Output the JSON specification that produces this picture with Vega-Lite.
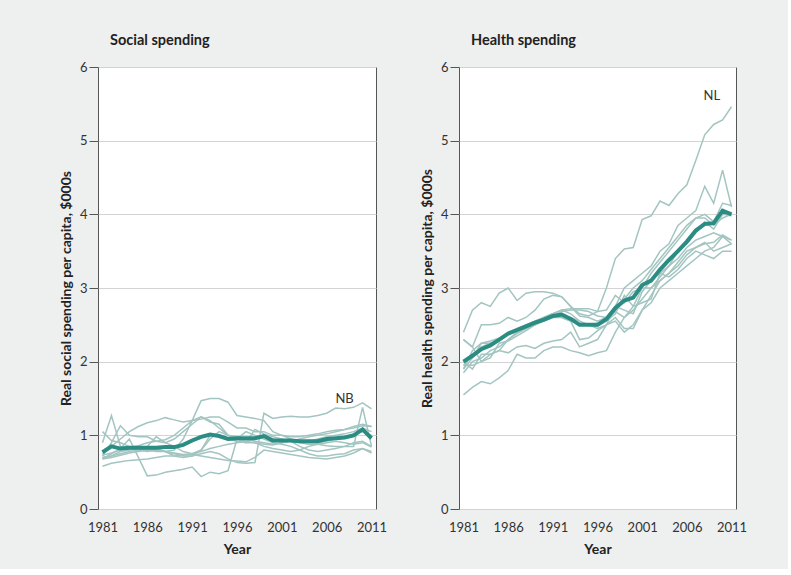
{
"$schema":"https://vega.github.io/schema/vega-lite/v6.json",
"background":"#eeefef",
"padding":{"left":58,"top":32,"right":40,"bottom":12},
"datasets":{
"labels":[{"s":"S","t":"NB","y":2008,"v":1.5},{"s":"H","t":"NL","y":2008.8,"v":5.6}],
"d":[
{"s":"S","p":"avg","y":1981,"v":0.77},{"s":"S","p":"avg","y":1982,"v":0.85},{"s":"S","p":"avg","y":1983,"v":0.82},{"s":"S","p":"avg","y":1984,"v":0.83},{"s":"S","p":"avg","y":1985,"v":0.83},{"s":"S","p":"avg","y":1986,"v":0.83},{"s":"S","p":"avg","y":1987,"v":0.83},{"s":"S","p":"avg","y":1988,"v":0.84},{"s":"S","p":"avg","y":1989,"v":0.84},{"s":"S","p":"avg","y":1990,"v":0.87},{"s":"S","p":"avg","y":1991,"v":0.93},{"s":"S","p":"avg","y":1992,"v":0.98},{"s":"S","p":"avg","y":1993,"v":1.01},{"s":"S","p":"avg","y":1994,"v":0.99},{"s":"S","p":"avg","y":1995,"v":0.95},{"s":"S","p":"avg","y":1996,"v":0.96},{"s":"S","p":"avg","y":1997,"v":0.96},{"s":"S","p":"avg","y":1998,"v":0.96},{"s":"S","p":"avg","y":1999,"v":0.99},{"s":"S","p":"avg","y":2000,"v":0.93},{"s":"S","p":"avg","y":2001,"v":0.93},{"s":"S","p":"avg","y":2002,"v":0.93},{"s":"S","p":"avg","y":2003,"v":0.92},{"s":"S","p":"avg","y":2004,"v":0.92},{"s":"S","p":"avg","y":2005,"v":0.92},{"s":"S","p":"avg","y":2006,"v":0.95},{"s":"S","p":"avg","y":2007,"v":0.96},{"s":"S","p":"avg","y":2008,"v":0.97},{"s":"S","p":"avg","y":2009,"v":1.0},{"s":"S","p":"avg","y":2010,"v":1.08},{"s":"S","p":"avg","y":2011,"v":0.96},
{"s":"S","p":"1","y":1981,"v":0.7},{"s":"S","p":"1","y":1982,"v":0.72},{"s":"S","p":"1","y":1983,"v":0.75},{"s":"S","p":"1","y":1984,"v":0.78},{"s":"S","p":"1","y":1985,"v":0.8},{"s":"S","p":"1","y":1986,"v":0.82},{"s":"S","p":"1","y":1987,"v":0.8},{"s":"S","p":"1","y":1988,"v":0.78},{"s":"S","p":"1","y":1989,"v":0.75},{"s":"S","p":"1","y":1990,"v":0.72},{"s":"S","p":"1","y":1991,"v":0.72},{"s":"S","p":"1","y":1992,"v":0.75},{"s":"S","p":"1","y":1993,"v":0.78},{"s":"S","p":"1","y":1994,"v":0.75},{"s":"S","p":"1","y":1995,"v":0.68},{"s":"S","p":"1","y":1996,"v":0.63},{"s":"S","p":"1","y":1997,"v":0.62},{"s":"S","p":"1","y":1998,"v":0.63},{"s":"S","p":"1","y":1999,"v":1.3},{"s":"S","p":"1","y":2000,"v":1.23},{"s":"S","p":"1","y":2001,"v":1.25},{"s":"S","p":"1","y":2002,"v":1.26},{"s":"S","p":"1","y":2003,"v":1.25},{"s":"S","p":"1","y":2004,"v":1.25},{"s":"S","p":"1","y":2005,"v":1.27},{"s":"S","p":"1","y":2006,"v":1.3},{"s":"S","p":"1","y":2007,"v":1.37},{"s":"S","p":"1","y":2008,"v":1.36},{"s":"S","p":"1","y":2009,"v":1.38},{"s":"S","p":"1","y":2010,"v":1.44},{"s":"S","p":"1","y":2011,"v":1.36},
{"s":"S","p":"2","y":1981,"v":1.05},{"s":"S","p":"2","y":1982,"v":0.93},{"s":"S","p":"2","y":1983,"v":0.9},{"s":"S","p":"2","y":1984,"v":0.85},{"s":"S","p":"2","y":1985,"v":0.82},{"s":"S","p":"2","y":1986,"v":0.8},{"s":"S","p":"2","y":1987,"v":0.78},{"s":"S","p":"2","y":1988,"v":0.78},{"s":"S","p":"2","y":1989,"v":0.8},{"s":"S","p":"2","y":1990,"v":0.95},{"s":"S","p":"2","y":1991,"v":1.2},{"s":"S","p":"2","y":1992,"v":1.47},{"s":"S","p":"2","y":1993,"v":1.5},{"s":"S","p":"2","y":1994,"v":1.5},{"s":"S","p":"2","y":1995,"v":1.45},{"s":"S","p":"2","y":1996,"v":1.27},{"s":"S","p":"2","y":1997,"v":1.25},{"s":"S","p":"2","y":1998,"v":1.23},{"s":"S","p":"2","y":1999,"v":1.2},{"s":"S","p":"2","y":2000,"v":1.05},{"s":"S","p":"2","y":2001,"v":1.0},{"s":"S","p":"2","y":2002,"v":0.95},{"s":"S","p":"2","y":2003,"v":0.92},{"s":"S","p":"2","y":2004,"v":0.9},{"s":"S","p":"2","y":2005,"v":0.9},{"s":"S","p":"2","y":2006,"v":0.92},{"s":"S","p":"2","y":2007,"v":0.95},{"s":"S","p":"2","y":2008,"v":0.98},{"s":"S","p":"2","y":2009,"v":1.02},{"s":"S","p":"2","y":2010,"v":1.05},{"s":"S","p":"2","y":2011,"v":1.0},
{"s":"S","p":"3","y":1981,"v":0.75},{"s":"S","p":"3","y":1982,"v":0.85},{"s":"S","p":"3","y":1983,"v":0.95},{"s":"S","p":"3","y":1984,"v":1.05},{"s":"S","p":"3","y":1985,"v":1.12},{"s":"S","p":"3","y":1986,"v":1.17},{"s":"S","p":"3","y":1987,"v":1.2},{"s":"S","p":"3","y":1988,"v":1.24},{"s":"S","p":"3","y":1989,"v":1.21},{"s":"S","p":"3","y":1990,"v":1.18},{"s":"S","p":"3","y":1991,"v":1.2},{"s":"S","p":"3","y":1992,"v":1.22},{"s":"S","p":"3","y":1993,"v":1.25},{"s":"S","p":"3","y":1994,"v":1.25},{"s":"S","p":"3","y":1995,"v":1.18},{"s":"S","p":"3","y":1996,"v":1.1},{"s":"S","p":"3","y":1997,"v":1.1},{"s":"S","p":"3","y":1998,"v":1.05},{"s":"S","p":"3","y":1999,"v":1.05},{"s":"S","p":"3","y":2000,"v":1.0},{"s":"S","p":"3","y":2001,"v":1.0},{"s":"S","p":"3","y":2002,"v":0.98},{"s":"S","p":"3","y":2003,"v":0.98},{"s":"S","p":"3","y":2004,"v":1.0},{"s":"S","p":"3","y":2005,"v":1.02},{"s":"S","p":"3","y":2006,"v":1.05},{"s":"S","p":"3","y":2007,"v":1.07},{"s":"S","p":"3","y":2008,"v":1.08},{"s":"S","p":"3","y":2009,"v":1.1},{"s":"S","p":"3","y":2010,"v":1.13},{"s":"S","p":"3","y":2011,"v":1.12},
{"s":"S","p":"4","y":1981,"v":0.9},{"s":"S","p":"4","y":1982,"v":1.27},{"s":"S","p":"4","y":1983,"v":0.85},{"s":"S","p":"4","y":1984,"v":0.82},{"s":"S","p":"4","y":1985,"v":0.8},{"s":"S","p":"4","y":1986,"v":0.78},{"s":"S","p":"4","y":1987,"v":0.8},{"s":"S","p":"4","y":1988,"v":0.78},{"s":"S","p":"4","y":1989,"v":0.76},{"s":"S","p":"4","y":1990,"v":0.74},{"s":"S","p":"4","y":1991,"v":0.75},{"s":"S","p":"4","y":1992,"v":0.78},{"s":"S","p":"4","y":1993,"v":0.82},{"s":"S","p":"4","y":1994,"v":0.85},{"s":"S","p":"4","y":1995,"v":0.88},{"s":"S","p":"4","y":1996,"v":0.9},{"s":"S","p":"4","y":1997,"v":0.92},{"s":"S","p":"4","y":1998,"v":0.9},{"s":"S","p":"4","y":1999,"v":0.88},{"s":"S","p":"4","y":2000,"v":0.87},{"s":"S","p":"4","y":2001,"v":0.9},{"s":"S","p":"4","y":2002,"v":0.92},{"s":"S","p":"4","y":2003,"v":0.9},{"s":"S","p":"4","y":2004,"v":0.88},{"s":"S","p":"4","y":2005,"v":0.88},{"s":"S","p":"4","y":2006,"v":0.86},{"s":"S","p":"4","y":2007,"v":0.85},{"s":"S","p":"4","y":2008,"v":0.85},{"s":"S","p":"4","y":2009,"v":0.85},{"s":"S","p":"4","y":2010,"v":1.38},{"s":"S","p":"4","y":2011,"v":0.85},
{"s":"S","p":"5","y":1981,"v":0.72},{"s":"S","p":"5","y":1982,"v":0.9},{"s":"S","p":"5","y":1983,"v":1.13},{"s":"S","p":"5","y":1984,"v":1.0},{"s":"S","p":"5","y":1985,"v":0.98},{"s":"S","p":"5","y":1986,"v":0.98},{"s":"S","p":"5","y":1987,"v":0.92},{"s":"S","p":"5","y":1988,"v":0.9},{"s":"S","p":"5","y":1989,"v":0.95},{"s":"S","p":"5","y":1990,"v":1.05},{"s":"S","p":"5","y":1991,"v":1.15},{"s":"S","p":"5","y":1992,"v":1.25},{"s":"S","p":"5","y":1993,"v":1.18},{"s":"S","p":"5","y":1994,"v":1.15},{"s":"S","p":"5","y":1995,"v":1.0},{"s":"S","p":"5","y":1996,"v":0.98},{"s":"S","p":"5","y":1997,"v":0.95},{"s":"S","p":"5","y":1998,"v":0.92},{"s":"S","p":"5","y":1999,"v":0.9},{"s":"S","p":"5","y":2000,"v":0.88},{"s":"S","p":"5","y":2001,"v":0.9},{"s":"S","p":"5","y":2002,"v":0.93},{"s":"S","p":"5","y":2003,"v":0.92},{"s":"S","p":"5","y":2004,"v":0.92},{"s":"S","p":"5","y":2005,"v":0.95},{"s":"S","p":"5","y":2006,"v":0.98},{"s":"S","p":"5","y":2007,"v":1.0},{"s":"S","p":"5","y":2008,"v":1.02},{"s":"S","p":"5","y":2009,"v":1.05},{"s":"S","p":"5","y":2010,"v":1.1},{"s":"S","p":"5","y":2011,"v":1.05},
{"s":"S","p":"6","y":1981,"v":0.68},{"s":"S","p":"6","y":1982,"v":0.75},{"s":"S","p":"6","y":1983,"v":0.82},{"s":"S","p":"6","y":1984,"v":0.95},{"s":"S","p":"6","y":1985,"v":0.7},{"s":"S","p":"6","y":1986,"v":0.45},{"s":"S","p":"6","y":1987,"v":0.46},{"s":"S","p":"6","y":1988,"v":0.5},{"s":"S","p":"6","y":1989,"v":0.52},{"s":"S","p":"6","y":1990,"v":0.54},{"s":"S","p":"6","y":1991,"v":0.57},{"s":"S","p":"6","y":1992,"v":0.44},{"s":"S","p":"6","y":1993,"v":0.5},{"s":"S","p":"6","y":1994,"v":0.48},{"s":"S","p":"6","y":1995,"v":0.52},{"s":"S","p":"6","y":1996,"v":0.95},{"s":"S","p":"6","y":1997,"v":1.05},{"s":"S","p":"6","y":1998,"v":1.0},{"s":"S","p":"6","y":1999,"v":0.95},{"s":"S","p":"6","y":2000,"v":0.9},{"s":"S","p":"6","y":2001,"v":0.88},{"s":"S","p":"6","y":2002,"v":0.85},{"s":"S","p":"6","y":2003,"v":0.8},{"s":"S","p":"6","y":2004,"v":0.75},{"s":"S","p":"6","y":2005,"v":0.72},{"s":"S","p":"6","y":2006,"v":0.72},{"s":"S","p":"6","y":2007,"v":0.74},{"s":"S","p":"6","y":2008,"v":0.75},{"s":"S","p":"6","y":2009,"v":0.8},{"s":"S","p":"6","y":2010,"v":0.82},{"s":"S","p":"6","y":2011,"v":0.76},
{"s":"S","p":"7","y":1981,"v":0.58},{"s":"S","p":"7","y":1982,"v":0.62},{"s":"S","p":"7","y":1983,"v":0.64},{"s":"S","p":"7","y":1984,"v":0.66},{"s":"S","p":"7","y":1985,"v":0.67},{"s":"S","p":"7","y":1986,"v":0.68},{"s":"S","p":"7","y":1987,"v":0.7},{"s":"S","p":"7","y":1988,"v":0.72},{"s":"S","p":"7","y":1989,"v":0.72},{"s":"S","p":"7","y":1990,"v":0.73},{"s":"S","p":"7","y":1991,"v":0.74},{"s":"S","p":"7","y":1992,"v":0.72},{"s":"S","p":"7","y":1993,"v":0.7},{"s":"S","p":"7","y":1994,"v":0.68},{"s":"S","p":"7","y":1995,"v":0.66},{"s":"S","p":"7","y":1996,"v":0.65},{"s":"S","p":"7","y":1997,"v":0.64},{"s":"S","p":"7","y":1998,"v":0.7},{"s":"S","p":"7","y":1999,"v":0.8},{"s":"S","p":"7","y":2000,"v":0.78},{"s":"S","p":"7","y":2001,"v":0.76},{"s":"S","p":"7","y":2002,"v":0.74},{"s":"S","p":"7","y":2003,"v":0.72},{"s":"S","p":"7","y":2004,"v":0.7},{"s":"S","p":"7","y":2005,"v":0.69},{"s":"S","p":"7","y":2006,"v":0.68},{"s":"S","p":"7","y":2007,"v":0.7},{"s":"S","p":"7","y":2008,"v":0.72},{"s":"S","p":"7","y":2009,"v":0.76},{"s":"S","p":"7","y":2010,"v":0.82},{"s":"S","p":"7","y":2011,"v":0.78},
{"s":"S","p":"8","y":1981,"v":0.7},{"s":"S","p":"8","y":1982,"v":0.72},{"s":"S","p":"8","y":1983,"v":0.78},{"s":"S","p":"8","y":1984,"v":0.8},{"s":"S","p":"8","y":1985,"v":0.82},{"s":"S","p":"8","y":1986,"v":0.85},{"s":"S","p":"8","y":1987,"v":0.98},{"s":"S","p":"8","y":1988,"v":0.9},{"s":"S","p":"8","y":1989,"v":0.85},{"s":"S","p":"8","y":1990,"v":0.78},{"s":"S","p":"8","y":1991,"v":0.75},{"s":"S","p":"8","y":1992,"v":0.8},{"s":"S","p":"8","y":1993,"v":1.0},{"s":"S","p":"8","y":1994,"v":1.0},{"s":"S","p":"8","y":1995,"v":0.95},{"s":"S","p":"8","y":1996,"v":0.92},{"s":"S","p":"8","y":1997,"v":0.9},{"s":"S","p":"8","y":1998,"v":1.08},{"s":"S","p":"8","y":1999,"v":1.02},{"s":"S","p":"8","y":2000,"v":0.98},{"s":"S","p":"8","y":2001,"v":0.95},{"s":"S","p":"8","y":2002,"v":0.92},{"s":"S","p":"8","y":2003,"v":0.85},{"s":"S","p":"8","y":2004,"v":0.8},{"s":"S","p":"8","y":2005,"v":0.78},{"s":"S","p":"8","y":2006,"v":0.8},{"s":"S","p":"8","y":2007,"v":0.82},{"s":"S","p":"8","y":2008,"v":0.85},{"s":"S","p":"8","y":2009,"v":0.9},{"s":"S","p":"8","y":2010,"v":0.92},{"s":"S","p":"8","y":2011,"v":0.85},
{"s":"S","p":"9","y":1981,"v":0.73},{"s":"S","p":"9","y":1982,"v":0.76},{"s":"S","p":"9","y":1983,"v":0.8},{"s":"S","p":"9","y":1984,"v":0.84},{"s":"S","p":"9","y":1985,"v":0.86},{"s":"S","p":"9","y":1986,"v":0.9},{"s":"S","p":"9","y":1987,"v":0.92},{"s":"S","p":"9","y":1988,"v":0.94},{"s":"S","p":"9","y":1989,"v":1.0},{"s":"S","p":"9","y":1990,"v":1.1},{"s":"S","p":"9","y":1991,"v":1.2},{"s":"S","p":"9","y":1992,"v":1.25},{"s":"S","p":"9","y":1993,"v":1.2},{"s":"S","p":"9","y":1994,"v":1.1},{"s":"S","p":"9","y":1995,"v":1.0},{"s":"S","p":"9","y":1996,"v":0.95},{"s":"S","p":"9","y":1997,"v":0.92},{"s":"S","p":"9","y":1998,"v":0.95},{"s":"S","p":"9","y":1999,"v":1.0},{"s":"S","p":"9","y":2000,"v":0.95},{"s":"S","p":"9","y":2001,"v":0.93},{"s":"S","p":"9","y":2002,"v":0.92},{"s":"S","p":"9","y":2003,"v":0.95},{"s":"S","p":"9","y":2004,"v":0.98},{"s":"S","p":"9","y":2005,"v":1.0},{"s":"S","p":"9","y":2006,"v":1.02},{"s":"S","p":"9","y":2007,"v":1.05},{"s":"S","p":"9","y":2008,"v":1.08},{"s":"S","p":"9","y":2009,"v":1.12},{"s":"S","p":"9","y":2010,"v":1.15},{"s":"S","p":"9","y":2011,"v":1.12},
{"s":"S","p":"10","y":1981,"v":0.68},{"s":"S","p":"10","y":1982,"v":0.7},{"s":"S","p":"10","y":1983,"v":0.73},{"s":"S","p":"10","y":1984,"v":0.76},{"s":"S","p":"10","y":1985,"v":0.78},{"s":"S","p":"10","y":1986,"v":0.8},{"s":"S","p":"10","y":1987,"v":0.82},{"s":"S","p":"10","y":1988,"v":0.78},{"s":"S","p":"10","y":1989,"v":0.72},{"s":"S","p":"10","y":1990,"v":0.7},{"s":"S","p":"10","y":1991,"v":0.72},{"s":"S","p":"10","y":1992,"v":0.8},{"s":"S","p":"10","y":1993,"v":0.95},{"s":"S","p":"10","y":1994,"v":1.05},{"s":"S","p":"10","y":1995,"v":1.0},{"s":"S","p":"10","y":1996,"v":0.95},{"s":"S","p":"10","y":1997,"v":0.9},{"s":"S","p":"10","y":1998,"v":0.9},{"s":"S","p":"10","y":1999,"v":0.85},{"s":"S","p":"10","y":2000,"v":0.82},{"s":"S","p":"10","y":2001,"v":0.8},{"s":"S","p":"10","y":2002,"v":0.78},{"s":"S","p":"10","y":2003,"v":0.8},{"s":"S","p":"10","y":2004,"v":0.85},{"s":"S","p":"10","y":2005,"v":0.88},{"s":"S","p":"10","y":2006,"v":0.9},{"s":"S","p":"10","y":2007,"v":0.92},{"s":"S","p":"10","y":2008,"v":0.9},{"s":"S","p":"10","y":2009,"v":0.88},{"s":"S","p":"10","y":2010,"v":0.9},{"s":"S","p":"10","y":2011,"v":0.84},
{"s":"H","p":"avg","y":1981,"v":2.0},{"s":"H","p":"avg","y":1982,"v":2.08},{"s":"H","p":"avg","y":1983,"v":2.17},{"s":"H","p":"avg","y":1984,"v":2.22},{"s":"H","p":"avg","y":1985,"v":2.3},{"s":"H","p":"avg","y":1986,"v":2.38},{"s":"H","p":"avg","y":1987,"v":2.43},{"s":"H","p":"avg","y":1988,"v":2.48},{"s":"H","p":"avg","y":1989,"v":2.53},{"s":"H","p":"avg","y":1990,"v":2.57},{"s":"H","p":"avg","y":1991,"v":2.62},{"s":"H","p":"avg","y":1992,"v":2.64},{"s":"H","p":"avg","y":1993,"v":2.58},{"s":"H","p":"avg","y":1994,"v":2.5},{"s":"H","p":"avg","y":1995,"v":2.5},{"s":"H","p":"avg","y":1996,"v":2.5},{"s":"H","p":"avg","y":1997,"v":2.58},{"s":"H","p":"avg","y":1998,"v":2.73},{"s":"H","p":"avg","y":1999,"v":2.83},{"s":"H","p":"avg","y":2000,"v":2.87},{"s":"H","p":"avg","y":2001,"v":3.04},{"s":"H","p":"avg","y":2002,"v":3.1},{"s":"H","p":"avg","y":2003,"v":3.25},{"s":"H","p":"avg","y":2004,"v":3.38},{"s":"H","p":"avg","y":2005,"v":3.5},{"s":"H","p":"avg","y":2006,"v":3.63},{"s":"H","p":"avg","y":2007,"v":3.78},{"s":"H","p":"avg","y":2008,"v":3.87},{"s":"H","p":"avg","y":2009,"v":3.88},{"s":"H","p":"avg","y":2010,"v":4.05},{"s":"H","p":"avg","y":2011,"v":4.0},
{"s":"H","p":"1","y":1981,"v":2.4},{"s":"H","p":"1","y":1982,"v":2.7},{"s":"H","p":"1","y":1983,"v":2.8},{"s":"H","p":"1","y":1984,"v":2.75},{"s":"H","p":"1","y":1985,"v":2.93},{"s":"H","p":"1","y":1986,"v":3.0},{"s":"H","p":"1","y":1987,"v":2.83},{"s":"H","p":"1","y":1988,"v":2.93},{"s":"H","p":"1","y":1989,"v":2.95},{"s":"H","p":"1","y":1990,"v":2.95},{"s":"H","p":"1","y":1991,"v":2.93},{"s":"H","p":"1","y":1992,"v":2.88},{"s":"H","p":"1","y":1993,"v":2.75},{"s":"H","p":"1","y":1994,"v":2.65},{"s":"H","p":"1","y":1995,"v":2.62},{"s":"H","p":"1","y":1996,"v":2.68},{"s":"H","p":"1","y":1997,"v":3.0},{"s":"H","p":"1","y":1998,"v":3.4},{"s":"H","p":"1","y":1999,"v":3.53},{"s":"H","p":"1","y":2000,"v":3.55},{"s":"H","p":"1","y":2001,"v":3.93},{"s":"H","p":"1","y":2002,"v":3.98},{"s":"H","p":"1","y":2003,"v":4.18},{"s":"H","p":"1","y":2004,"v":4.12},{"s":"H","p":"1","y":2005,"v":4.28},{"s":"H","p":"1","y":2006,"v":4.4},{"s":"H","p":"1","y":2007,"v":4.73},{"s":"H","p":"1","y":2008,"v":5.08},{"s":"H","p":"1","y":2009,"v":5.22},{"s":"H","p":"1","y":2010,"v":5.28},{"s":"H","p":"1","y":2011,"v":5.46},
{"s":"H","p":"2","y":1981,"v":2.3},{"s":"H","p":"2","y":1982,"v":2.2},{"s":"H","p":"2","y":1983,"v":2.5},{"s":"H","p":"2","y":1984,"v":2.5},{"s":"H","p":"2","y":1985,"v":2.52},{"s":"H","p":"2","y":1986,"v":2.6},{"s":"H","p":"2","y":1987,"v":2.55},{"s":"H","p":"2","y":1988,"v":2.6},{"s":"H","p":"2","y":1989,"v":2.7},{"s":"H","p":"2","y":1990,"v":2.85},{"s":"H","p":"2","y":1991,"v":2.9},{"s":"H","p":"2","y":1992,"v":2.88},{"s":"H","p":"2","y":1993,"v":2.75},{"s":"H","p":"2","y":1994,"v":2.62},{"s":"H","p":"2","y":1995,"v":2.6},{"s":"H","p":"2","y":1996,"v":2.55},{"s":"H","p":"2","y":1997,"v":2.6},{"s":"H","p":"2","y":1998,"v":2.75},{"s":"H","p":"2","y":1999,"v":3.0},{"s":"H","p":"2","y":2000,"v":3.1},{"s":"H","p":"2","y":2001,"v":3.2},{"s":"H","p":"2","y":2002,"v":3.3},{"s":"H","p":"2","y":2003,"v":3.5},{"s":"H","p":"2","y":2004,"v":3.6},{"s":"H","p":"2","y":2005,"v":3.85},{"s":"H","p":"2","y":2006,"v":3.95},{"s":"H","p":"2","y":2007,"v":4.05},{"s":"H","p":"2","y":2008,"v":4.38},{"s":"H","p":"2","y":2009,"v":4.15},{"s":"H","p":"2","y":2010,"v":4.6},{"s":"H","p":"2","y":2011,"v":4.1},
{"s":"H","p":"3","y":1981,"v":1.55},{"s":"H","p":"3","y":1982,"v":1.65},{"s":"H","p":"3","y":1983,"v":1.73},{"s":"H","p":"3","y":1984,"v":1.7},{"s":"H","p":"3","y":1985,"v":1.78},{"s":"H","p":"3","y":1986,"v":1.88},{"s":"H","p":"3","y":1987,"v":2.1},{"s":"H","p":"3","y":1988,"v":2.05},{"s":"H","p":"3","y":1989,"v":2.05},{"s":"H","p":"3","y":1990,"v":2.15},{"s":"H","p":"3","y":1991,"v":2.2},{"s":"H","p":"3","y":1992,"v":2.2},{"s":"H","p":"3","y":1993,"v":2.15},{"s":"H","p":"3","y":1994,"v":2.12},{"s":"H","p":"3","y":1995,"v":2.08},{"s":"H","p":"3","y":1996,"v":2.12},{"s":"H","p":"3","y":1997,"v":2.15},{"s":"H","p":"3","y":1998,"v":2.4},{"s":"H","p":"3","y":1999,"v":2.6},{"s":"H","p":"3","y":2000,"v":2.7},{"s":"H","p":"3","y":2001,"v":2.85},{"s":"H","p":"3","y":2002,"v":3.0},{"s":"H","p":"3","y":2003,"v":3.15},{"s":"H","p":"3","y":2004,"v":3.3},{"s":"H","p":"3","y":2005,"v":3.4},{"s":"H","p":"3","y":2006,"v":3.55},{"s":"H","p":"3","y":2007,"v":3.65},{"s":"H","p":"3","y":2008,"v":3.7},{"s":"H","p":"3","y":2009,"v":3.75},{"s":"H","p":"3","y":2010,"v":3.7},{"s":"H","p":"3","y":2011,"v":3.6},
{"s":"H","p":"4","y":1981,"v":1.9},{"s":"H","p":"4","y":1982,"v":2.05},{"s":"H","p":"4","y":1983,"v":2.25},{"s":"H","p":"4","y":1984,"v":2.25},{"s":"H","p":"4","y":1985,"v":2.28},{"s":"H","p":"4","y":1986,"v":2.38},{"s":"H","p":"4","y":1987,"v":2.45},{"s":"H","p":"4","y":1988,"v":2.5},{"s":"H","p":"4","y":1989,"v":2.55},{"s":"H","p":"4","y":1990,"v":2.6},{"s":"H","p":"4","y":1991,"v":2.65},{"s":"H","p":"4","y":1992,"v":2.7},{"s":"H","p":"4","y":1993,"v":2.72},{"s":"H","p":"4","y":1994,"v":2.72},{"s":"H","p":"4","y":1995,"v":2.72},{"s":"H","p":"4","y":1996,"v":2.68},{"s":"H","p":"4","y":1997,"v":2.7},{"s":"H","p":"4","y":1998,"v":2.9},{"s":"H","p":"4","y":1999,"v":2.8},{"s":"H","p":"4","y":2000,"v":2.95},{"s":"H","p":"4","y":2001,"v":3.0},{"s":"H","p":"4","y":2002,"v":3.2},{"s":"H","p":"4","y":2003,"v":3.35},{"s":"H","p":"4","y":2004,"v":3.5},{"s":"H","p":"4","y":2005,"v":3.65},{"s":"H","p":"4","y":2006,"v":3.8},{"s":"H","p":"4","y":2007,"v":3.95},{"s":"H","p":"4","y":2008,"v":4.0},{"s":"H","p":"4","y":2009,"v":3.9},{"s":"H","p":"4","y":2010,"v":4.15},{"s":"H","p":"4","y":2011,"v":4.12},
{"s":"H","p":"5","y":1981,"v":1.85},{"s":"H","p":"5","y":1982,"v":2.0},{"s":"H","p":"5","y":1983,"v":2.05},{"s":"H","p":"5","y":1984,"v":2.15},{"s":"H","p":"5","y":1985,"v":2.2},{"s":"H","p":"5","y":1986,"v":2.3},{"s":"H","p":"5","y":1987,"v":2.4},{"s":"H","p":"5","y":1988,"v":2.45},{"s":"H","p":"5","y":1989,"v":2.5},{"s":"H","p":"5","y":1990,"v":2.6},{"s":"H","p":"5","y":1991,"v":2.65},{"s":"H","p":"5","y":1992,"v":2.6},{"s":"H","p":"5","y":1993,"v":2.55},{"s":"H","p":"5","y":1994,"v":2.3},{"s":"H","p":"5","y":1995,"v":2.32},{"s":"H","p":"5","y":1996,"v":2.42},{"s":"H","p":"5","y":1997,"v":2.5},{"s":"H","p":"5","y":1998,"v":2.6},{"s":"H","p":"5","y":1999,"v":2.45},{"s":"H","p":"5","y":2000,"v":2.45},{"s":"H","p":"5","y":2001,"v":2.7},{"s":"H","p":"5","y":2002,"v":2.9},{"s":"H","p":"5","y":2003,"v":3.1},{"s":"H","p":"5","y":2004,"v":3.2},{"s":"H","p":"5","y":2005,"v":3.35},{"s":"H","p":"5","y":2006,"v":3.5},{"s":"H","p":"5","y":2007,"v":3.55},{"s":"H","p":"5","y":2008,"v":3.6},{"s":"H","p":"5","y":2009,"v":3.62},{"s":"H","p":"5","y":2010,"v":3.72},{"s":"H","p":"5","y":2011,"v":3.65},
{"s":"H","p":"6","y":1981,"v":2.0},{"s":"H","p":"6","y":1982,"v":1.9},{"s":"H","p":"6","y":1983,"v":2.1},{"s":"H","p":"6","y":1984,"v":2.1},{"s":"H","p":"6","y":1985,"v":2.15},{"s":"H","p":"6","y":1986,"v":2.3},{"s":"H","p":"6","y":1987,"v":2.38},{"s":"H","p":"6","y":1988,"v":2.45},{"s":"H","p":"6","y":1989,"v":2.5},{"s":"H","p":"6","y":1990,"v":2.55},{"s":"H","p":"6","y":1991,"v":2.6},{"s":"H","p":"6","y":1992,"v":2.62},{"s":"H","p":"6","y":1993,"v":2.6},{"s":"H","p":"6","y":1994,"v":2.55},{"s":"H","p":"6","y":1995,"v":2.5},{"s":"H","p":"6","y":1996,"v":2.48},{"s":"H","p":"6","y":1997,"v":2.55},{"s":"H","p":"6","y":1998,"v":2.65},{"s":"H","p":"6","y":1999,"v":2.9},{"s":"H","p":"6","y":2000,"v":2.75},{"s":"H","p":"6","y":2001,"v":2.8},{"s":"H","p":"6","y":2002,"v":2.85},{"s":"H","p":"6","y":2003,"v":3.2},{"s":"H","p":"6","y":2004,"v":3.15},{"s":"H","p":"6","y":2005,"v":3.25},{"s":"H","p":"6","y":2006,"v":3.4},{"s":"H","p":"6","y":2007,"v":3.5},{"s":"H","p":"6","y":2008,"v":3.45},{"s":"H","p":"6","y":2009,"v":3.4},{"s":"H","p":"6","y":2010,"v":3.5},{"s":"H","p":"6","y":2011,"v":3.5},
{"s":"H","p":"7","y":1981,"v":1.95},{"s":"H","p":"7","y":1982,"v":2.1},{"s":"H","p":"7","y":1983,"v":2.2},{"s":"H","p":"7","y":1984,"v":2.25},{"s":"H","p":"7","y":1985,"v":2.3},{"s":"H","p":"7","y":1986,"v":2.4},{"s":"H","p":"7","y":1987,"v":2.45},{"s":"H","p":"7","y":1988,"v":2.5},{"s":"H","p":"7","y":1989,"v":2.55},{"s":"H","p":"7","y":1990,"v":2.6},{"s":"H","p":"7","y":1991,"v":2.65},{"s":"H","p":"7","y":1992,"v":2.7},{"s":"H","p":"7","y":1993,"v":2.65},{"s":"H","p":"7","y":1994,"v":2.55},{"s":"H","p":"7","y":1995,"v":2.5},{"s":"H","p":"7","y":1996,"v":2.52},{"s":"H","p":"7","y":1997,"v":2.58},{"s":"H","p":"7","y":1998,"v":2.68},{"s":"H","p":"7","y":1999,"v":2.6},{"s":"H","p":"7","y":2000,"v":2.75},{"s":"H","p":"7","y":2001,"v":3.0},{"s":"H","p":"7","y":2002,"v":3.0},{"s":"H","p":"7","y":2003,"v":3.1},{"s":"H","p":"7","y":2004,"v":3.2},{"s":"H","p":"7","y":2005,"v":3.3},{"s":"H","p":"7","y":2006,"v":3.45},{"s":"H","p":"7","y":2007,"v":3.55},{"s":"H","p":"7","y":2008,"v":3.62},{"s":"H","p":"7","y":2009,"v":3.5},{"s":"H","p":"7","y":2010,"v":3.55},{"s":"H","p":"7","y":2011,"v":3.6},
{"s":"H","p":"8","y":1981,"v":2.3},{"s":"H","p":"8","y":1982,"v":2.2},{"s":"H","p":"8","y":1983,"v":2.0},{"s":"H","p":"8","y":1984,"v":2.05},{"s":"H","p":"8","y":1985,"v":2.25},{"s":"H","p":"8","y":1986,"v":2.28},{"s":"H","p":"8","y":1987,"v":2.35},{"s":"H","p":"8","y":1988,"v":2.42},{"s":"H","p":"8","y":1989,"v":2.5},{"s":"H","p":"8","y":1990,"v":2.55},{"s":"H","p":"8","y":1991,"v":2.62},{"s":"H","p":"8","y":1992,"v":2.68},{"s":"H","p":"8","y":1993,"v":2.7},{"s":"H","p":"8","y":1994,"v":2.7},{"s":"H","p":"8","y":1995,"v":2.68},{"s":"H","p":"8","y":1996,"v":2.62},{"s":"H","p":"8","y":1997,"v":2.6},{"s":"H","p":"8","y":1998,"v":2.7},{"s":"H","p":"8","y":1999,"v":2.85},{"s":"H","p":"8","y":2000,"v":3.0},{"s":"H","p":"8","y":2001,"v":3.1},{"s":"H","p":"8","y":2002,"v":3.25},{"s":"H","p":"8","y":2003,"v":3.4},{"s":"H","p":"8","y":2004,"v":3.55},{"s":"H","p":"8","y":2005,"v":3.7},{"s":"H","p":"8","y":2006,"v":3.85},{"s":"H","p":"8","y":2007,"v":3.95},{"s":"H","p":"8","y":2008,"v":3.95},{"s":"H","p":"8","y":2009,"v":3.85},{"s":"H","p":"8","y":2010,"v":3.95},{"s":"H","p":"8","y":2011,"v":4.0},
{"s":"H","p":"9","y":1981,"v":1.95},{"s":"H","p":"9","y":1982,"v":1.95},{"s":"H","p":"9","y":1983,"v":2.0},{"s":"H","p":"9","y":1984,"v":2.1},{"s":"H","p":"9","y":1985,"v":2.15},{"s":"H","p":"9","y":1986,"v":2.12},{"s":"H","p":"9","y":1987,"v":2.2},{"s":"H","p":"9","y":1988,"v":2.22},{"s":"H","p":"9","y":1989,"v":2.18},{"s":"H","p":"9","y":1990,"v":2.25},{"s":"H","p":"9","y":1991,"v":2.28},{"s":"H","p":"9","y":1992,"v":2.3},{"s":"H","p":"9","y":1993,"v":2.4},{"s":"H","p":"9","y":1994,"v":2.2},{"s":"H","p":"9","y":1995,"v":2.25},{"s":"H","p":"9","y":1996,"v":2.3},{"s":"H","p":"9","y":1997,"v":2.5},{"s":"H","p":"9","y":1998,"v":2.55},{"s":"H","p":"9","y":1999,"v":2.4},{"s":"H","p":"9","y":2000,"v":2.5},{"s":"H","p":"9","y":2001,"v":2.7},{"s":"H","p":"9","y":2002,"v":2.8},{"s":"H","p":"9","y":2003,"v":3.0},{"s":"H","p":"9","y":2004,"v":3.1},{"s":"H","p":"9","y":2005,"v":3.2},{"s":"H","p":"9","y":2006,"v":3.3},{"s":"H","p":"9","y":2007,"v":3.4},{"s":"H","p":"9","y":2008,"v":3.5},{"s":"H","p":"9","y":2009,"v":3.55},{"s":"H","p":"9","y":2010,"v":3.7},{"s":"H","p":"9","y":2011,"v":3.65},
{"s":"H","p":"10","y":1981,"v":1.9},{"s":"H","p":"10","y":1982,"v":2.15},{"s":"H","p":"10","y":1983,"v":2.25},{"s":"H","p":"10","y":1984,"v":2.28},{"s":"H","p":"10","y":1985,"v":2.32},{"s":"H","p":"10","y":1986,"v":2.4},{"s":"H","p":"10","y":1987,"v":2.42},{"s":"H","p":"10","y":1988,"v":2.48},{"s":"H","p":"10","y":1989,"v":2.52},{"s":"H","p":"10","y":1990,"v":2.55},{"s":"H","p":"10","y":1991,"v":2.6},{"s":"H","p":"10","y":1992,"v":2.6},{"s":"H","p":"10","y":1993,"v":2.55},{"s":"H","p":"10","y":1994,"v":2.52},{"s":"H","p":"10","y":1995,"v":2.5},{"s":"H","p":"10","y":1996,"v":2.45},{"s":"H","p":"10","y":1997,"v":2.5},{"s":"H","p":"10","y":1998,"v":2.75},{"s":"H","p":"10","y":1999,"v":2.7},{"s":"H","p":"10","y":2000,"v":2.65},{"s":"H","p":"10","y":2001,"v":2.95},{"s":"H","p":"10","y":2002,"v":3.1},{"s":"H","p":"10","y":2003,"v":3.2},{"s":"H","p":"10","y":2004,"v":3.3},{"s":"H","p":"10","y":2005,"v":3.5},{"s":"H","p":"10","y":2006,"v":3.6},{"s":"H","p":"10","y":2007,"v":3.75},{"s":"H","p":"10","y":2008,"v":3.9},{"s":"H","p":"10","y":2009,"v":3.8},{"s":"H","p":"10","y":2010,"v":4.0},{"s":"H","p":"10","y":2011,"v":3.98}
]},
"config":{
"font":"Lato",
"view":{"fill":"white","stroke":"#555555","strokeWidth":1},
"axis":{"labelFont":"Lato","titleFont":"Lato","labelFontSize":13,"labelColor":"#333333","titleFontSize":14,"titleFontWeight":"bold","titleColor":"#222222"},
"concat":{"spacing":31}
},
"hconcat":[
{
"width":278,"height":442,
"title":{"text":"Social spending","anchor":"start","frame":"group","dx":12,"fontSize":14.5,"fontWeight":"bold","color":"#222222","offset":13,"font":"Lato"},
"encoding":{
"x":{"field":"y","type":"quantitative","scale":{"domain":[1980.5,2011.5],"nice":false,"zero":false},"axis":{"values":[1981,1986,1991,1996,2001,2006,2011],"format":"d","title":"Year","grid":false,"ticks":false,"domain":false,"labelPadding":12,"titlePadding":8}},
"y":{"field":"v","type":"quantitative","scale":{"domain":[0,6],"nice":false},"axis":{"values":[0,1,2,3,4,5,6],"title":"Real social spending per capita, $000s","grid":true,"gridColor":"#d3d3d3","domain":false,"tickSize":9,"tickColor":"#555555","labelPadding":2,"titlePadding":6}}
},
"layer":[
{"data":{"name":"d"},"transform":[{"filter":"datum.s==='S' && datum.p!=='avg'"}],"mark":{"type":"line","color":"#a3c5c1","strokeWidth":1.5},"encoding":{"detail":{"field":"p","type":"nominal"}}},
{"data":{"name":"d"},"transform":[{"filter":"datum.s==='S' && datum.p==='avg'"}],"mark":{"type":"line","color":"#2a8c82","strokeWidth":4},"encoding":{}},
{"data":{"name":"labels"},"transform":[{"filter":"datum.s==='S'"}],"mark":{"type":"text","fontSize":13,"color":"#333333","font":"Lato"},"encoding":{"text":{"field":"t","type":"nominal"}}}
]
},
{
"width":277,"height":442,
"title":{"text":"Health spending","anchor":"start","frame":"group","dx":12,"fontSize":14.5,"fontWeight":"bold","color":"#222222","offset":13,"font":"Lato"},
"encoding":{
"x":{"field":"y","type":"quantitative","scale":{"domain":[1980.5,2011.5],"nice":false,"zero":false},"axis":{"values":[1981,1986,1991,1996,2001,2006,2011],"format":"d","title":"Year","grid":false,"ticks":false,"domain":false,"labelPadding":12,"titlePadding":8}},
"y":{"field":"v","type":"quantitative","scale":{"domain":[0,6],"nice":false},"axis":{"values":[0,1,2,3,4,5,6],"title":"Real health spending per capita, $000s","grid":true,"gridColor":"#d3d3d3","domain":false,"tickSize":9,"tickColor":"#555555","labelPadding":2,"titlePadding":6}}
},
"layer":[
{"data":{"name":"d"},"transform":[{"filter":"datum.s==='H' && datum.p!=='avg'"}],"mark":{"type":"line","color":"#a3c5c1","strokeWidth":1.5},"encoding":{"detail":{"field":"p","type":"nominal"}}},
{"data":{"name":"d"},"transform":[{"filter":"datum.s==='H' && datum.p==='avg'"}],"mark":{"type":"line","color":"#2a8c82","strokeWidth":4},"encoding":{}},
{"data":{"name":"labels"},"transform":[{"filter":"datum.s==='H'"}],"mark":{"type":"text","fontSize":13,"color":"#333333","font":"Lato"},"encoding":{"text":{"field":"t","type":"nominal"}}}
]
}
]
}
